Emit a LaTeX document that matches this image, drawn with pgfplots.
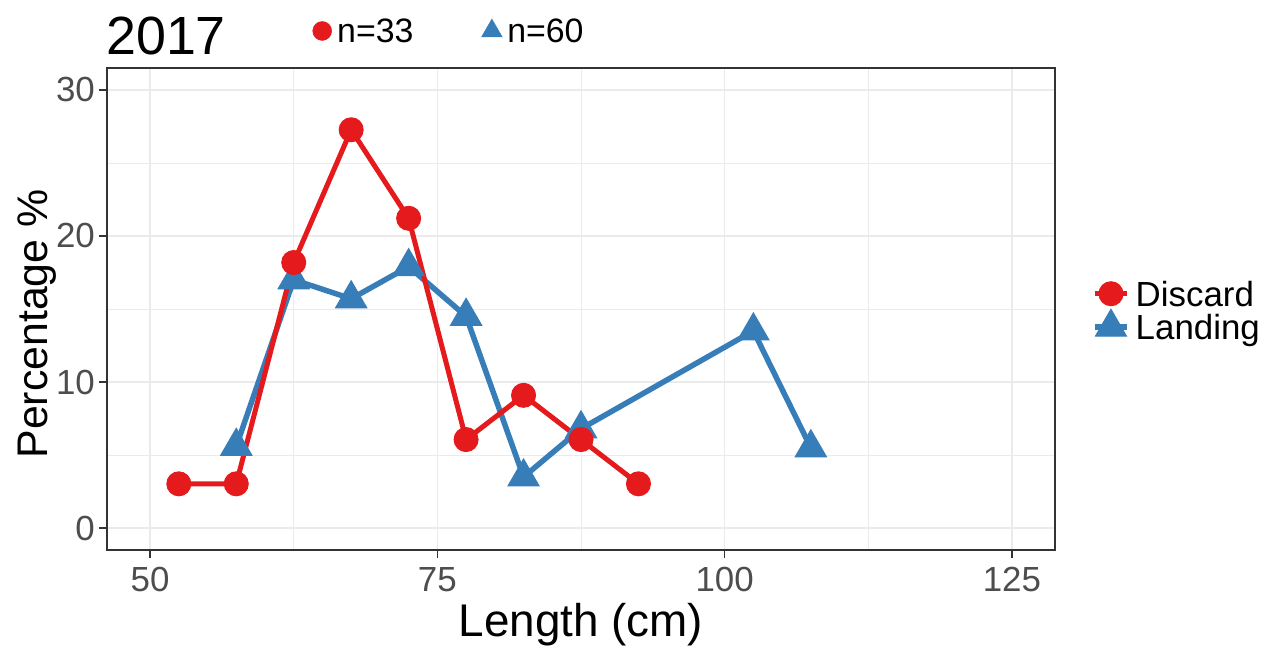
\documentclass[border=0pt]{standalone}
\usepackage{fontspec}
\setmainfont{Liberation Sans}
\usepackage{pgfplots}
\pgfplotsset{compat=1.18}
\definecolor{dred}{HTML}{E41A1C}
\definecolor{dblue}{HTML}{377EB8}
\definecolor{gridc}{HTML}{EBEBEB}
\definecolor{g20}{HTML}{333333}
\definecolor{g30}{HTML}{4D4D4D}
\begin{document}
\begin{tikzpicture}[x=1bp,y=1bp]
\path[use as bounding box] (0,0) rectangle (1267,650);
\begin{axis}[
  at={(107bp,100bp)}, anchor=south west,
  width=948bp, height=482bp, scale only axis,
  xmin=46.25, xmax=128.75, ymin=-1.5, ymax=31.5,
  xtick={50,75,100,125}, ytick={0,10,20,30},
  minor xtick={62.5,87.5,112.5}, minor ytick={5,15,25},
  grid=both,
  major grid style={draw=gridc, line width=1.5bp},
  minor grid style={draw=gridc, line width=0.8bp},
  axis line style={draw=g20, line width=1.5bp},
  tick align=outside, tick pos=left,
  major tick length=8bp, minor tick length=0pt,
  major tick style={draw=g20, line width=1.5bp},
  /pgf/number format/assume math mode=true,
  ticklabel style={font=\fontsize{35}{40}\selectfont, text=g30},
  xticklabel style={anchor=north, inner sep=0pt, yshift=-9bp},
  yticklabel style={anchor=east, inner sep=0pt, xshift=-4bp},
  legend image code/.code={
    \draw[mark repeat=2, mark phase=2, #1] plot coordinates {(0bp,0bp) (16bp,0bp) (32bp,0bp)};
    \path[draw=none, fill=none] (0bp,-15.5bp) rectangle (32bp,15.5bp);
  },
  legend style={at={(1,0.5)}, anchor=west, xshift=37bp, yshift=-1.5bp,
    draw=none, fill=none, inner xsep=0pt, inner ysep=0pt, row sep=0pt,
    cells={anchor=west},
    nodes={inner sep=0pt, text height=25bp, text depth=0pt, font=\fontsize{35}{40}\selectfont},
    /tikz/every odd column/.append style={column sep=6bp}},
]
\addplot[dblue, line width=5.5bp, mark=triangle*, mark size=18bp, mark options={solid, line width=1bp}, forget plot]
  coordinates {(57.5,5.6) (62.5,17.0) (67.5,15.7) (72.5,17.9) (77.5,14.5) (82.5,3.5) (87.5,6.8) (102.5,13.5) (107.5,5.5)};
\addplot[dred, line width=5bp, mark=*, mark size=12bp, mark options={solid, line width=1bp}, forget plot]
  coordinates {(52.5,3.03) (57.5,3.03) (62.5,18.18) (67.5,27.27) (72.5,21.21) (77.5,6.06) (82.5,9.09) (87.5,6.06) (92.5,3.03)};
\addlegendimage{dred, line width=5bp, mark=*, mark size=12bp, mark options={solid, line width=1bp}}
\addlegendentry{Discard}
\addlegendimage{dblue, line width=5.5bp, mark=triangle*, mark size=18bp, mark options={solid, line width=1bp}}
\addlegendentry{Landing}
\end{axis}
\begin{axis}[
  at={(0bp,0bp)}, anchor=south west,
  width=1267bp, height=650bp, scale only axis, hide axis,
  xmin=0, xmax=1, ymin=0, ymax=1,
  legend columns=2,
  legend image code/.code={
    \draw[#1] plot coordinates {(10bp,0bp)};
    \path[draw=none, fill=none] (0bp,-10bp) rectangle (20bp,10bp);
  },
  legend style={at={(312/1267,619/650)}, anchor=west,
    draw=none, fill=none, inner xsep=0pt, inner ysep=0pt,
    cells={anchor=west},
    nodes={inner sep=0pt, text height=24bp, text depth=0pt, font=\fontsize{34}{40}\selectfont},
    /tikz/every odd column/.append style={column sep=5bp},
    /tikz/every even column/.append style={column sep=68bp}},
]
\addlegendimage{only marks, dred, mark=*, mark size=9.5bp}
\addlegendentry{n=33}
\addlegendimage{only marks, dblue, mark=triangle*, mark size=12bp}
\addlegendentry{n=60}
\end{axis}
\node[anchor=base west, inner sep=0pt, font=\fontsize{54}{60}\selectfont] at (106,595) {2017};
\node[anchor=base, inner sep=0pt, font=\fontsize{46}{50}\selectfont] at (581,13) {Length (cm)};
\node[rotate=90, anchor=base, inner sep=0pt, font=\fontsize{43}{50}\selectfont] at (47,326) {Percentage \%};
\end{tikzpicture}
\end{document}
